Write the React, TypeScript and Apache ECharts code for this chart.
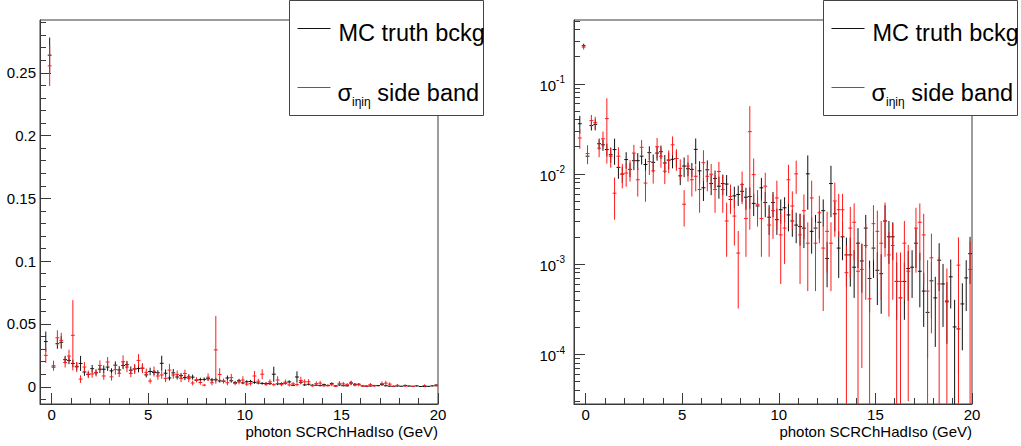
import React, { useEffect, useRef } from 'react';
import * as echarts from 'echarts';

// bin centres (bin width 0.2 GeV)
const binCenters = [
  -0.3, -0.1, 0.1, 0.3, 0.5, 0.7, 0.9, 1.1, 1.3, 1.5, 1.7, 1.9, 2.1, 2.3, 2.5, 2.7, 2.9,
  3.1, 3.3, 3.5, 3.7, 3.9, 4.1, 4.3, 4.5, 4.7, 4.9, 5.1, 5.3, 5.5, 5.7, 5.9, 6.1, 6.3,
  6.5, 6.7, 6.9, 7.1, 7.3, 7.5, 7.7, 7.9, 8.1, 8.3, 8.5, 8.7, 8.9, 9.1, 9.3, 9.5, 9.7,
  9.9, 10.1, 10.3, 10.5, 10.7, 10.9, 11.1, 11.3, 11.5, 11.7, 11.9, 12.1, 12.3, 12.5,
  12.7, 12.9, 13.1, 13.3, 13.5, 13.7, 13.9, 14.1, 14.3, 14.5, 14.7, 14.9, 15.1, 15.3,
  15.5, 15.7, 15.9, 16.1, 16.3, 16.5, 16.7, 16.9, 17.1, 17.3, 17.5, 17.7, 17.9, 18.1,
  18.3, 18.5, 18.7, 18.9, 19.1, 19.3, 19.5, 19.7, 19.9,
];

// MC truth background
const mcTruth = [
  0.036, 0.264, 0.0157, 0.0343, 0.0354, 0.0216, 0.021, 0.0186, 0.0163, 0.0186, 0.0118, 0.00995,
  0.0144, 0.0112, 0.014, 0.014, 0.0157, 0.0127, 0.0172, 0.0134, 0.017, 0.0176, 0.0132, 0.0142,
  0.0145, 0.0148, 0.0095, 0.0122, 0.0114, 0.0112, 0.0187, 0.0108, 0.007, 0.0111, 0.0078, 0.0089,
  0.0073, 0.0078, 0.0077, 0.0052, 0.0057, 0.0059, 0.0064, 0.0055, 0.0056, 0.0047, 0.0044, 0.007,
  0.0048, 0.0033, 0.0048, 0.0031, 0.004, 0.0042, 0.0035, 0.003, 0.0027, 0.0026, 0.0025, 0.01,
  0.0023, 0.0025, 0.0029, 0.0039, 0.00115, 0.0078, 0.0036, 0.0015, 0.002, 0.00126, 0.00126,
  0.00092, 0.0017, 0.00108, 0.0025, 0.00069, 0.0015, 0.00085, 0.00078, 0.003, 0.002, 0.002,
  0.00064, 0.00042, 0.00064, 0.00089, 0.00092, 0.0017, 0.00083, 0.0005, 0.00029, 0.00065,
  0.00042, 0.0011, 0.0006, 0.00038, 0.00072, 0.0002, 0.00019, 0.00036, 0.0007, 0.0013,
];
const mcTruthErr = [
  0.008, 0.014, 0.002, 0.004, 0.005, 0.003, 0.003, 0.003, 0.003, 0.006, 0.003, 0.002,
  0.003, 0.002, 0.003, 0.003, 0.003, 0.002, 0.003, 0.003, 0.003, 0.003, 0.003, 0.003,
  0.003, 0.003, 0.002, 0.003, 0.002, 0.002, 0.006, 0.003, 0.002, 0.003, 0.002, 0.002,
  0.002, 0.002, 0.002, 0.0015, 0.0015, 0.0015, 0.0015, 0.0015, 0.0015, 0.0013, 0.0012, 0.002,
  0.0015, 0.0012, 0.0015, 0.001, 0.0012, 0.0013, 0.0012, 0.001, 0.001, 0.001, 0.001, 0.006,
  0.001, 0.001, 0.001, 0.0013, 0.0006, 0.0045, 0.0013, 0.0008, 0.0009, 0.0007, 0.0007,
  0.0005, 0.0008, 0.0006, 0.001, 0.0004, 0.0008, 0.0005, 0.0005, 0.0015, 0.001, 0.0009,
  0.0004, 0.0003, 0.0004, 0.0005, 0.0005, 0.0008, 0.0005, 0.0003, 0.0002, 0.0004,
  0.0003, 0.0006, 0.0004, 0.00025, 0.0004, 0.0002, 0.00013, 0.00025, 0.0004, 0.0007,
];

// sigma_ietaieta side band
const sideBand = [
  0.025, 0.2555, 0.0168, 0.039, 0.037, 0.0193, 0.0245, 0.041, 0.0157, 0.0061, 0.0157, 0.0099,
  0.0102, 0.0112, 0.017, 0.0086, 0.0197, 0.0079, 0.0137, 0.0108, 0.02, 0.0157, 0.0107, 0.0142,
  0.021, 0.0148, 0.0115, 0.0046, 0.0122, 0.0086, 0.0094, 0.0067, 0.0133, 0.0094, 0.0099, 0.0067,
  0.0106, 0.0067, 0.003, 0.0056, 0.0034, 0.00132, 0.0076, 0.0032, 0.0294, 0.0098, 0.0046, 0.0032,
  0.0073, 0.0027, 0.0039, 0.0054, 0.0021, 0.0025, 0.0086, 0.0044, 0.01, 0.0021, 0.0039, 0.0017,
  0.0054, 0.0017, 0.0037, 0.0015, 0.0023, 0.0017, 0.005, 0.004, 0.004, 0.0008, 0.0025,
  0.0029, 0.00083, 0.00087, 0.0016, 0.00041, 0.0028, 0.0023, 0.0017, 0.003, 0.00126, 0.0016,
  0.00064, 0.00064, 0.0017, 0.00083, null, 0.0025, 0.0029, 0.0021, 0.0005, 0.00117,
  null, 0.0006, null, 0.00039, null, null, 0.00097, null, null, 0.00087,
];
const sideBandErr = [
  0.006, 0.016, 0.004, 0.006, 0.006, 0.004, 0.005, 0.028, 0.004, 0.003, 0.004, 0.003,
  0.003, 0.003, 0.004, 0.003, 0.004, 0.003, 0.004, 0.003, 0.005, 0.004, 0.003, 0.004,
  0.005, 0.004, 0.003, 0.002, 0.004, 0.003, 0.003, 0.003, 0.005, 0.003, 0.003, 0.003,
  0.003, 0.003, 0.0018, 0.002, 0.0018, 0.001, 0.003, 0.002, 0.027, 0.005, 0.002, 0.002,
  0.003, 0.0015, 0.002, 0.003, 0.0015, 0.0015, 0.004, 0.002, 0.004, 0.0015, 0.002, 0.0012,
  0.003, 0.0012, 0.002, 0.0012, 0.0015, 0.0012, 0.003, 0.002, 0.002, 0.0008, 0.0018,
  0.0018, 0.0009, 0.0008, 0.0012, 0.0005, 0.0017, 0.0016, 0.0013, 0.0018, 0.001, 0.0012,
  0.0007, 0.0007, 0.0013, 0.0008, null, 0.0017, 0.0018, 0.0015, 0.0006, 0.001,
  null, 0.0006, null, 0.0005, null, null, 0.001, null, null, 0.0009,
];

const xMajorTicks = [0, 5, 10, 15, 20];
const xMinorTicks = [1, 2, 3, 4, 6, 7, 8, 9, 11, 12, 13, 14, 16, 17, 18, 19];
const linMajorTicks = [0, 0.05, 0.1, 0.15, 0.2, 0.25];
const linMinorTicks = [
  -0.01, 0.01, 0.02, 0.03, 0.04, 0.06, 0.07, 0.08, 0.09, 0.11, 0.12, 0.13, 0.14,
  0.16, 0.17, 0.18, 0.19, 0.21, 0.22, 0.23, 0.24, 0.26, 0.27, 0.28, 0.29,
];
const logMajorTicks = [0.0001, 0.001, 0.01, 0.1];
const logMinorTicks = [
  0.00003, 0.00004, 0.00005, 0.00006, 0.00007, 0.00008, 0.00009,
  0.0002, 0.0003, 0.0004, 0.0005, 0.0006, 0.0007, 0.0008, 0.0009,
  0.002, 0.003, 0.004, 0.005, 0.006, 0.007, 0.008, 0.009,
  0.02, 0.03, 0.04, 0.05, 0.06, 0.07, 0.08, 0.09,
  0.2, 0.3, 0.4, 0.5,
];

const seriesNames = ['MC truth bckg', 'σ side band'];
const xTitle = 'photon SCRChHadIso (GeV)';

const X_MIN = -0.6;
const X_MAX = 20;
const LIN_MIN = -0.0137;
const LIN_MAX = 0.292;
const LOG_MIN = 0.0000279;
const LOG_MAX = 0.51;
const HALF_BIN = 0.1;

const FONT = '"Liberation Sans", Arial, Helvetica, sans-serif';
const AX = '#3a3a3a';
const BLACK = '#111111';
const RED = '#ff1a1a';

const GRID_TOP = 20;
const GRID_W = 398;
const GRID_H = 384;
const GRID_LEFTS = [40, 574];

function errorSeries(
  name: string,
  axisIndex: number,
  yAxisIndex: number,
  values: (number | null)[],
  errs: (number | null)[],
  color: string,
  yMin: number,
  yMax: number,
) {
  const data: number[][] = [];
  binCenters.forEach((x, i) => {
    const v = values[i];
    const e = errs[i];
    if (v != null && e != null) data.push([x, v, e]);
  });
  return {
    type: 'custom',
    name,
    xAxisIndex: axisIndex,
    yAxisIndex,
    data,
    dimensions: ['x', 'y', 'err'],
    encode: { x: 0, y: 1 },
    clip: true,
    renderItem: (_params: any, api: any) => {
      const x = api.value(0);
      const y = api.value(1);
      const e = api.value(2);
      const lo = Math.max(y - e, yMin);
      const hi = Math.min(y + e, yMax);
      const pl = api.coord([x - HALF_BIN, y]);
      const pr = api.coord([x + HALF_BIN, y]);
      const pLo = api.coord([x, lo]);
      const pHi = api.coord([x, hi]);
      const style = { stroke: color, lineWidth: 1 };
      return {
        type: 'group',
        children: [
          { type: 'line', shape: { x1: pl[0], y1: pl[1], x2: pr[0], y2: pr[1] }, style },
          { type: 'line', shape: { x1: pLo[0], y1: pLo[1], x2: pHi[0], y2: pHi[1] }, style },
        ],
      };
    },
  };
}

function xAxes(gridIndex: number) {
  return [
    {
      type: 'value',
      gridIndex,
      min: X_MIN,
      max: X_MAX,
      position: 'bottom',
      axisLine: { show: true, onZero: false, lineStyle: { color: AX, width: 1 } },
      axisTick: { show: true, inside: true, length: 11, customValues: xMajorTicks, lineStyle: { color: AX } },
      axisLabel: {
        show: true,
        customValues: xMajorTicks,
        margin: 3,
        fontSize: 15,
        lineHeight: 15,
        color: '#000',
        fontFamily: FONT,
      },
      splitLine: { show: false },
    },
    {
      type: 'value',
      gridIndex,
      min: X_MIN,
      max: X_MAX,
      position: 'bottom',
      axisLine: { show: false, onZero: false },
      axisTick: { show: true, inside: true, length: 6, customValues: xMinorTicks, lineStyle: { color: AX } },
      axisLabel: { show: false },
      splitLine: { show: false },
    },
  ];
}

function xTitleText(rightX: number) {
  return {
    type: 'text',
    x: rightX,
    y: 431,
    z: 50,
    style: {
      text: xTitle,
      fontSize: 15,
      lineHeight: 15,
      fontFamily: FONT,
      fill: '#000',
      align: 'right',
      verticalAlign: 'middle',
    },
  };
}

function legendGroup(x0: number) {
  return {
    type: 'group',
    z: 100,
    children: [
      {
        type: 'rect',
        shape: { x: x0, y: 0.5, width: 194, height: 115 },
        style: { fill: '#fff', stroke: '#444', lineWidth: 1 },
        z: 100,
      },
      {
        type: 'line',
        shape: { x1: x0 + 8, y1: 28.5, x2: x0 + 41, y2: 28.5 },
        style: { stroke: BLACK, lineWidth: 1 },
        z: 101,
      },
      {
        type: 'text',
        x: x0 + 49,
        y: 33,
        z: 101,
        style: {
          text: seriesNames[0],
          fontSize: 23.5,
          fontFamily: FONT,
          fill: '#000',
          verticalAlign: 'middle',
          align: 'left',
        },
      },
      {
        type: 'line',
        shape: { x1: x0 + 8, y1: 87.5, x2: x0 + 41, y2: 87.5 },
        style: { stroke: RED, lineWidth: 1 },
        z: 101,
      },
      {
        type: 'text',
        x: x0 + 48,
        y: 78,
        z: 101,
        style: {
          text: '{s|σ}{sub|iηiη}{s| side band}',
          fontFamily: FONT,
          fill: '#000',
          verticalAlign: 'top',
          align: 'left',
          rich: {
            s: { fontSize: 23.5, fontFamily: FONT, lineHeight: 30, verticalAlign: 'middle' },
            sub: { fontSize: 12, fontFamily: FONT, lineHeight: 30, verticalAlign: 'bottom' },
          },
        },
      },
    ],
  };
}

export default function App() {
  const ref = useRef<HTMLDivElement>(null);

  useEffect(() => {
    if (!ref.current) return;
    const chart = echarts.init(ref.current, null, { renderer: 'svg' });
    const gridCommon = {
      top: GRID_TOP,
      width: GRID_W,
      height: GRID_H,
      show: true,
      borderColor: AX,
      borderWidth: 1,
      backgroundColor: 'transparent',
      containLabel: false,
      outerBoundsMode: 'none',
    };
    chart.setOption({
      animation: false,
      backgroundColor: '#fff',
      textStyle: { fontFamily: FONT },
      grid: [
        { ...gridCommon, left: GRID_LEFTS[0] },
        { ...gridCommon, left: GRID_LEFTS[1] },
      ],
      xAxis: [...xAxes(0), ...xAxes(1)],
      yAxis: [
        {
          type: 'value',
          gridIndex: 0,
          min: LIN_MIN,
          max: LIN_MAX,
          position: 'left',
          axisLine: { show: true, onZero: false, lineStyle: { color: AX } },
          axisTick: { show: true, inside: true, length: 11, customValues: linMajorTicks, lineStyle: { color: AX } },
          axisLabel: {
            customValues: linMajorTicks,
            margin: 4,
            fontSize: 15,
            color: '#000',
            fontFamily: FONT,
            formatter: (v: number) => String(v),
          },
          splitLine: { show: false },
        },
        {
          type: 'log',
          logBase: 10,
          gridIndex: 1,
          min: LOG_MIN,
          max: LOG_MAX,
          position: 'left',
          axisLine: { show: true, onZero: false, lineStyle: { color: AX } },
          axisTick: { show: true, inside: true, length: 11, customValues: logMajorTicks, lineStyle: { color: AX } },
          axisLabel: {
            customValues: logMajorTicks,
            margin: 9,
            color: '#000',
            fontFamily: FONT,
            formatter: (v: number) => `{b|10}{p|${Math.round(Math.log10(v))}}`,
            rich: {
              b: { fontSize: 15, fontFamily: FONT, color: '#000', lineHeight: 18, verticalAlign: 'bottom' },
              p: { fontSize: 10, fontFamily: FONT, color: '#000', lineHeight: 18, verticalAlign: 'top' },
            },
          },
          splitLine: { show: false },
        },
        {
          type: 'value',
          gridIndex: 0,
          min: LIN_MIN,
          max: LIN_MAX,
          position: 'left',
          offset: 0,
          axisLine: { show: false, onZero: false },
          axisTick: { show: true, inside: true, length: 6, customValues: linMinorTicks, lineStyle: { color: AX } },
          axisLabel: { show: false },
          splitLine: { show: false },
        },
        {
          type: 'log',
          logBase: 10,
          gridIndex: 1,
          min: LOG_MIN,
          max: LOG_MAX,
          position: 'left',
          offset: 0,
          axisLine: { show: false, onZero: false },
          axisTick: { show: true, inside: true, length: 6, customValues: logMinorTicks, lineStyle: { color: AX } },
          axisLabel: { show: false },
          splitLine: { show: false },
        },
      ],
      series: [
        errorSeries(seriesNames[0], 0, 0, mcTruth, mcTruthErr, BLACK, LIN_MIN, LIN_MAX),
        errorSeries(seriesNames[1], 0, 0, sideBand, sideBandErr, RED, LIN_MIN, LIN_MAX),
        errorSeries(seriesNames[0], 2, 1, mcTruth, mcTruthErr, BLACK, LOG_MIN, LOG_MAX),
        errorSeries(seriesNames[1], 2, 1, sideBand, sideBandErr, RED, LOG_MIN, LOG_MAX),
      ],
      graphic: [
        xTitleText(GRID_LEFTS[0] + GRID_W),
        xTitleText(GRID_LEFTS[1] + GRID_W),
        legendGroup(289.5),
        legendGroup(823.5),
      ],
    });
    return () => chart.dispose();
  }, []);

  return (
    <div
      ref={ref}
      style={{ position: 'fixed', left: 0, top: 0, width: 1021, height: 446, background: '#fff' }}
    />
  );
}
